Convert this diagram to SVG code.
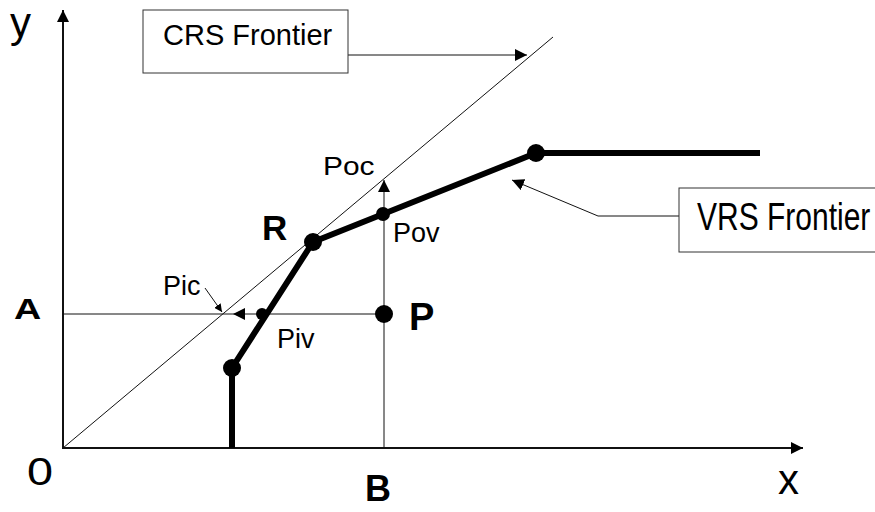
<svg xmlns="http://www.w3.org/2000/svg" width="875" height="512" viewBox="0 0 875 512">
<style>
text{font-family:"Liberation Sans",Arial,sans-serif;fill:#000}
.b{font-weight:bold}
.thin{stroke:#111;stroke-width:1;fill:none}
.axis{stroke:#111;stroke-width:2;fill:none}
.thick{stroke:#000;stroke-width:6;fill:none;stroke-linejoin:round}
.box{fill:#fff;stroke:#333;stroke-width:1}
.dot{fill:#000}
</style>
<defs>
<marker id="ah" markerUnits="userSpaceOnUse" viewBox="0 0 12 12" refX="12" refY="6" markerWidth="12" markerHeight="12" orient="auto"><path d="M0,0 L12,6 L0,12 z" fill="#000"/></marker>
<marker id="ahs" markerUnits="userSpaceOnUse" viewBox="0 0 8 8" refX="8" refY="4" markerWidth="8" markerHeight="8" orient="auto"><path d="M0,0 L8,4 L0,8 z" fill="#000"/></marker>
</defs>
<g id="connectors">
<line class="axis" x1="63" y1="449" x2="63" y2="10" marker-end="url(#ah)"/>
<line class="axis" x1="62" y1="448" x2="803" y2="448" marker-end="url(#ah)"/>
<line class="thin" x1="63" y1="448" x2="553" y2="37"/>
<line class="thin" x1="63" y1="314" x2="233" y2="314"/>
<line class="thin" x1="384" y1="314" x2="233" y2="314" marker-end="url(#ah)"/>
<line class="thin" x1="384" y1="448" x2="384" y2="180" marker-end="url(#ah)"/>
<line class="thin" x1="348" y1="55" x2="527" y2="55" marker-end="url(#ah)"/>
<polyline class="thin" points="679,216 598,216 512,180" marker-end="url(#ah)"/>
<line class="thin" x1="205" y1="288" x2="222" y2="312" marker-end="url(#ahs)"/>
<polyline class="thick" points="232,448 232,368 313,242 536,153 760,153"/>
</g>
<g id="crs-label"><rect class="box" x="143" y="10" width="205" height="63"/><text x="163" y="45" font-size="29">CRS Frontier</text></g>
<g id="vrs-label"><rect class="box" x="679" y="188" width="200" height="64"/><text transform="translate(697,230) scale(1,1.3)" font-size="30">VRS Frontier</text></g>
<g id="R"><circle class="dot" cx="313" cy="242" r="9"/><text class="b" x="262" y="240" font-size="35">R</text></g>
<g id="P"><circle class="dot" cx="384" cy="314" r="9"/><text class="b" x="409" y="330" font-size="38">P</text></g>
<g id="kink-low"><circle class="dot" cx="232" cy="368" r="9"/></g>
<g id="kink-high"><circle class="dot" cx="536" cy="153" r="9"/></g>
<g id="Piv"><circle class="dot" cx="262" cy="314" r="6"/><text x="277" y="348" font-size="27">Piv</text></g>
<g id="Pov"><circle class="dot" cx="383" cy="214" r="7"/><text x="393" y="242" font-size="27">Pov</text></g>
<g id="Pic"><text x="163" y="295" font-size="27">Pic</text></g>
<g id="Poc"><text transform="translate(323,175) scale(1.15,1)" font-size="26">Poc</text></g>
<g id="axis-labels">
<text x="10" y="37" font-size="42">y</text>
<text transform="translate(27,485) scale(1.2,1)" font-size="39">0</text>
<text x="778" y="494" font-size="42">x</text>
<text class="b" x="365" y="501" font-size="36">B</text>
<text class="b" transform="translate(14,319) scale(1.3,1)" font-size="29">A</text>
</g>
</svg>
